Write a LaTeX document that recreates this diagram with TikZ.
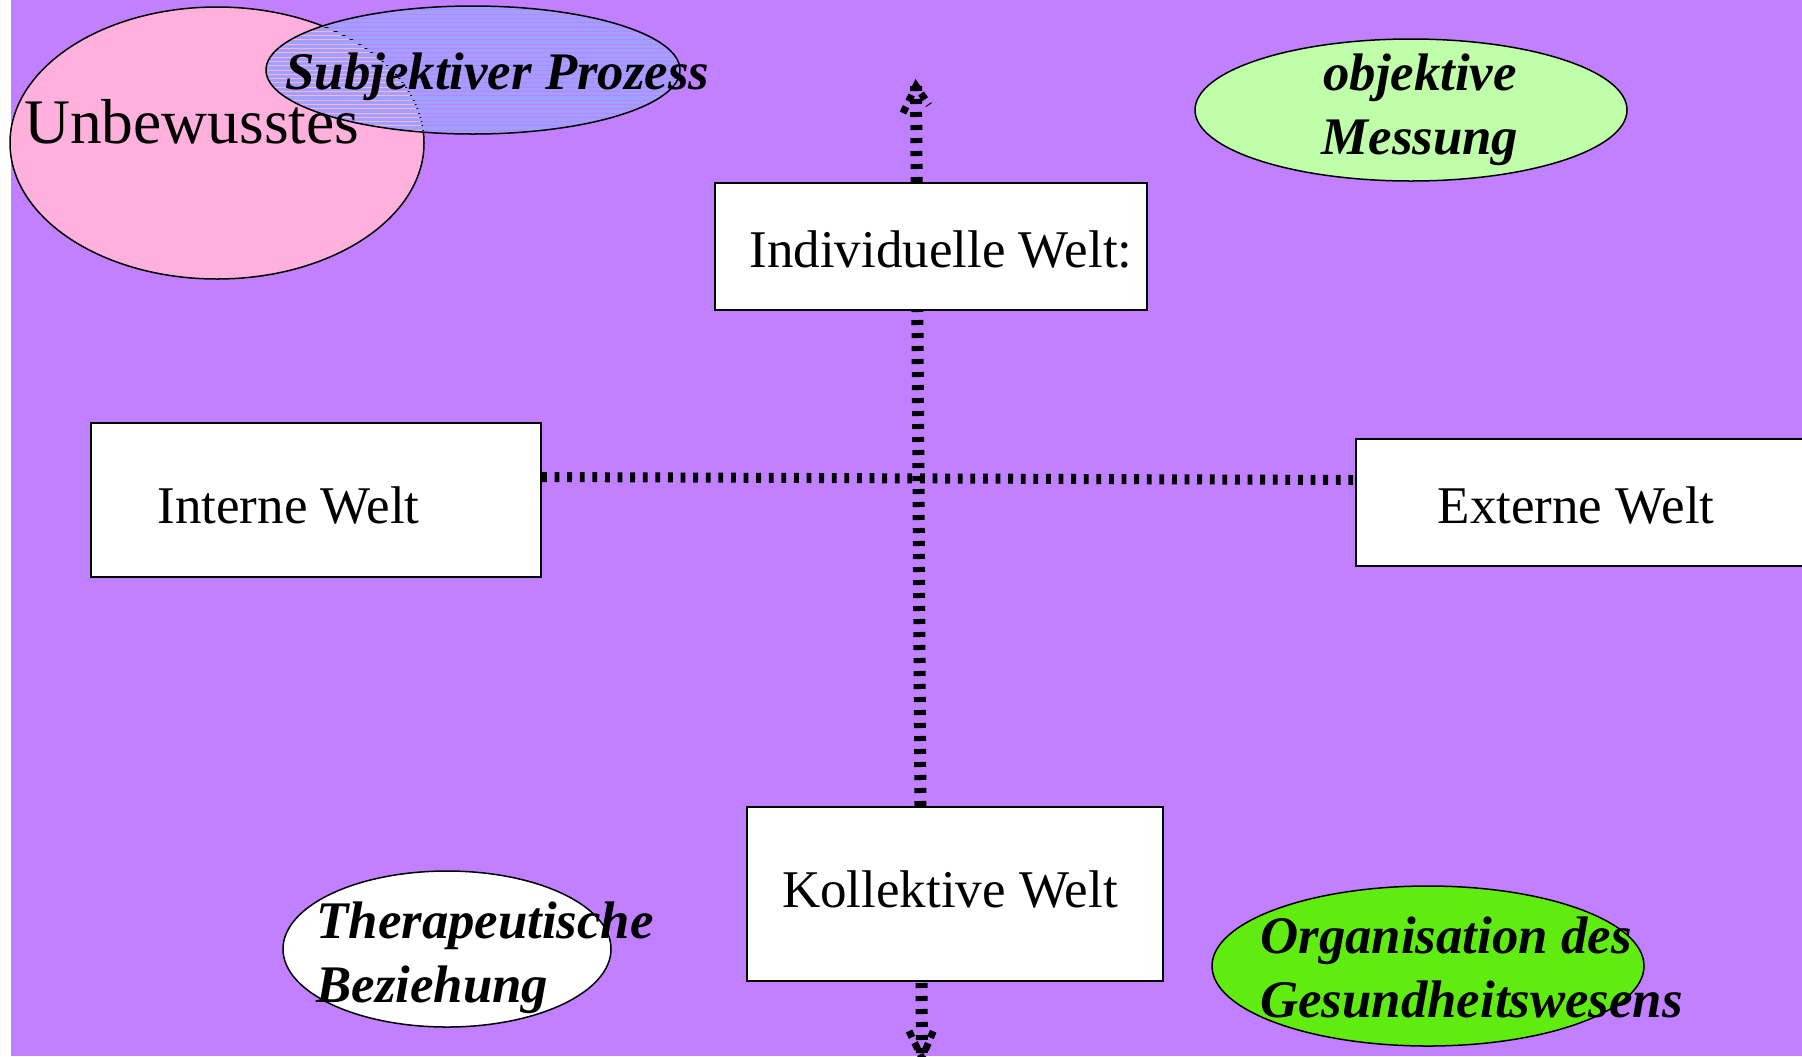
\documentclass[tikz,border=0pt]{standalone}
\usepackage{fontspec}
\setmainfont{Liberation Serif}
\usetikzlibrary{shapes.geometric}
\definecolor{bgpurple}{RGB}{192,128,255}
\definecolor{unbpink}{RGB}{255,176,220}
\definecolor{subjblue}{RGB}{160,160,255}
\definecolor{objgreen}{RGB}{192,255,170}
\definecolor{orggreen}{RGB}{96,236,16}
\pgfdeclarelayer{back}
\pgfdeclarelayer{mid}
\pgfsetlayers{back,mid,main}
\tikzset{
  worldbox/.style={draw=black, line width=1pt, fill=white, rectangle, inner sep=0pt,
    text depth=0pt, font=\fontsize{26.5pt}{32pt}\selectfont},
  bubble/.style={draw=black, line width=0.75pt, ellipse, inner sep=0pt},
  bitext/.style={inner sep=0pt, font=\fontsize{26.4pt}{32pt}\selectfont\bfseries\itshape},
  bigtext/.style={inner sep=0pt, font=\fontsize{31.75pt}{38pt}\selectfont},
  vline/.style={line width=6pt, dash pattern=on 2.5pt off 4pt},
  hline/.style={line width=5pt, dash pattern=on 2.4pt off 3.9pt},
  headline/.style={line width=3.5pt, dash pattern=on 3.5pt off 3pt},
}
\begin{document}
\begin{tikzpicture}[x=0.5pt,y=-0.5pt]
\useasboundingbox (0,0) rectangle (1802,1056);
\begin{pgfonlayer}{back}
  \fill[white] (0,0) rectangle (1802,1056);
  \fill[bgpurple] (11,0) rectangle (1802,1056);
\end{pgfonlayer}
% vertical axis (double arrow)
\coordinate (vtop) at (916,86);
\coordinate (vbot) at (922,1058);
\begin{pgfonlayer}{mid}
  \draw[vline] (vtop) -- (vbot);
\end{pgfonlayer}
\draw[headline] ([shift={(-13,27)}]vtop) -- (vtop) -- ([shift={(13,19)}]vtop);
\draw[headline] ([shift={(-13,-27)}]vbot) -- (vbot) -- ([shift={(13,-31)}]vbot);
% top-left bubbles
\node[bubble, fill=unbpink, minimum width=207pt, minimum height=136pt] (unb) at (217,143) {};
\node[bubble, minimum width=207pt, minimum height=64pt,
  path picture={\foreach \yy in {0,4.3,...,134}{\fill[subjblue] ([shift={(0,\yy)}]path picture bounding box.north west) rectangle +(450,3.3);}}] (subj) at (473,70) {};
\node[bigtext, anchor=base west] (unbT) at (24,143) {Unbewusstes};
\node[bitext, anchor=base west] (subjT) at (285,89) {Subjektiver Prozess};
% top-right bubble
\node[bubble, fill=objgreen, minimum width=216pt, minimum height=71pt] (obj) at (1411,110) {};
\node[bitext, align=center, anchor=base] (objT) at (1420,154) {objektive\\Messung};
% world boxes
\node[worldbox, minimum width=216pt, minimum height=63.5pt, text height=20.5pt] (indw) at (931,246.5) {\hspace*{10pt}Individuelle Welt:};
\node[worldbox, minimum width=225pt, minimum height=77pt, text height=23pt] (intw) at (316,500) {Interne Welt\hspace*{27.5pt}};
\node[worldbox, minimum width=228pt, minimum height=63.5pt, text height=20.5pt] (extw) at (1584,502.5) {Externe Welt\hspace*{8pt}};
\node[worldbox, minimum width=208pt, minimum height=87pt, text height=13pt] (kolw) at (955,894) {Kollektive Welt\hspace*{5pt}};
% horizontal axis
\draw[hline] ([shift={(0,-23)}]intw.east) -- ([shift={(0,-22.5)}]extw.west);
% bottom bubbles
\node[bubble, fill=white, minimum width=164pt, minimum height=78pt] (ther) at (447,949) {};
\node[bitext, align=left, anchor=base west] (therT) at (316,1002) {Therapeutische\\Beziehung};
\node[bubble, fill=orggreen, minimum width=216pt, minimum height=80pt] (org) at (1428,966) {};
\node[bitext, align=left, anchor=base west] (orgT) at (1260,1017) {Organisation des\\Gesundheitswesens};
\end{tikzpicture}
\end{document}
